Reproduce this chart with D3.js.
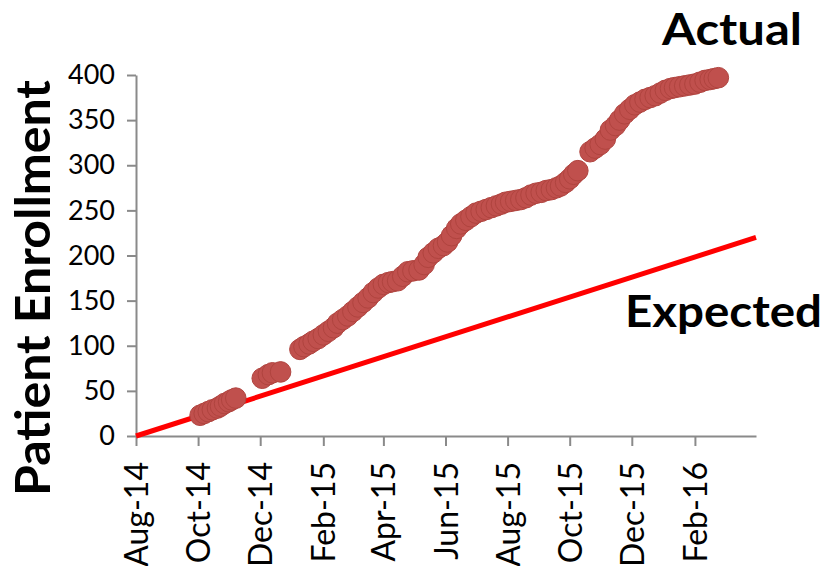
<!DOCTYPE html>
<html>
<head>
<meta charset="utf-8">
<script src="https://cdn.jsdelivr.net/npm/d3@7"></script>
<style>
  html, body { margin: 0; padding: 0; background: #fff; }
  svg { display: block; }
</style>
</head>
<body>
<svg id="chart" width="824" height="566"></svg>
<script>
// Cumulative patient enrollment: actual vs. expected
const actualDates = [
  "2014-10-03","2014-10-07","2014-10-11","2014-10-15","2014-10-20","2014-10-23","2014-10-27","2014-10-31","2014-11-03","2014-11-07",
  "2014-12-03","2014-12-09","2014-12-13","2014-12-21",
  "2015-01-09","2015-01-13","2015-01-18","2015-01-22","2015-01-27","2015-02-01","2015-02-06","2015-02-11","2015-02-15","2015-02-20",
  "2015-02-25","2015-03-02","2015-03-07","2015-03-12","2015-03-17","2015-03-22","2015-03-27","2015-04-01","2015-04-06","2015-04-10",
  "2015-04-15","2015-04-20","2015-04-25","2015-04-30","2015-05-06","2015-05-11","2015-05-15","2015-05-20","2015-05-25","2015-05-30",
  "2015-06-03","2015-06-07","2015-06-12","2015-06-16","2015-06-21","2015-06-26","2015-07-01","2015-07-06","2015-07-11","2015-07-16",
  "2015-07-21","2015-07-26","2015-07-30","2015-08-04","2015-08-09","2015-08-14","2015-08-19","2015-08-24","2015-08-29","2015-09-03",
  "2015-09-08","2015-09-13","2015-09-18","2015-09-22","2015-09-27","2015-10-01","2015-10-05","2015-10-09",
  "2015-10-21","2015-10-26","2015-10-31","2015-11-05","2015-11-10","2015-11-15","2015-11-19","2015-11-24","2015-11-29","2015-12-04",
  "2015-12-09","2015-12-14","2015-12-19","2015-12-24","2015-12-29","2016-01-03","2016-01-08","2016-01-12","2016-01-17","2016-01-22",
  "2016-01-27","2016-02-01","2016-02-06","2016-02-11","2016-02-16","2016-02-20","2016-02-24"
];
const actualValues = [
  23, 25, 27, 29, 31, 33, 36, 38, 40, 42,
  64, 68, 70, 71,
  96, 99, 102, 105, 108, 112, 116, 120, 125, 129,
  133, 138, 143, 148, 153, 159, 164, 168, 170, 171,
  172, 177, 182, 183, 184, 190, 198, 203, 208, 211,
  215, 222, 230, 235, 239, 243, 247, 249, 251, 253,
  255, 257, 259, 260, 261, 262, 264, 267, 269, 270,
  272, 273, 275, 277, 281, 285, 290, 294,
  315, 319, 323, 329, 339, 344, 350, 357, 362, 367,
  370, 373, 375, 377, 380, 383, 385, 386, 387, 388,
  389, 390, 392, 394, 395, 396, 397
];

// Planned enrollment: straight line from study start
const expectedMonths = ["Aug-14", "Apr-16"];
const expectedValues = [0, 220];

// Axis ticks
const xTickLabels = ["Aug-14","Oct-14","Dec-14","Feb-15","Apr-15","Jun-15","Aug-15","Oct-15","Dec-15","Feb-16"];
const xDomainLabels = ["Aug-14", "Apr-16"];
const yTickValues = [0, 50, 100, 150, 200, 250, 300, 350, 400];

const parseDay = d3.timeParse("%Y-%m-%d");
const parseMonth = d3.timeParse("%b-%y");
const fmtMonth = d3.timeFormat("%b-%y");

const svg = d3.select("#chart");

const x = d3.scaleTime()
  .domain(xDomainLabels.map(parseMonth))
  .range([136, 756]);
const y = d3.scaleLinear()
  .domain([0, 400])
  .range([436, 75]);

const axisColor = "#8a8a8a";
const tickFont = "Lato, 'Open Sans', sans-serif";

// Y axis
const yAxis = svg.append("g")
  .attr("transform", "translate(136,0)")
  .call(d3.axisLeft(y).tickValues(yTickValues).tickSize(9).tickSizeOuter(0).tickPadding(12));
yAxis.select(".domain").attr("stroke", axisColor).attr("stroke-width", 2);
yAxis.selectAll(".tick line").attr("stroke", axisColor).attr("stroke-width", 2);
yAxis.selectAll(".tick text")
  .attr("fill", "#000")
  .style("font-family", tickFont)
  .style("font-size", "27px");

// X axis
const xAxis = svg.append("g")
  .attr("transform", "translate(0,436)")
  .call(d3.axisBottom(x)
    .tickValues(xTickLabels.map(parseMonth))
    .tickFormat(fmtMonth)
    .tickSize(10)
    .tickSizeOuter(0));
xAxis.select(".domain").attr("stroke", axisColor).attr("stroke-width", 2);
xAxis.selectAll(".tick line").attr("stroke", axisColor).attr("stroke-width", 2);
xAxis.selectAll(".tick text")
  .attr("fill", "#000")
  .attr("transform", "rotate(-90)")
  .attr("text-anchor", "end")
  .attr("x", -26)
  .attr("y", 0)
  .attr("dy", "0.36em")
  .style("font-family", tickFont)
  .style("font-size", "32px");

// Expected line
const expected = expectedMonths.map((m, i) => ({ date: parseMonth(m), value: expectedValues[i] }));
svg.append("path")
  .datum(expected)
  .attr("fill", "none")
  .attr("stroke", "#ff0000")
  .attr("stroke-width", 5)
  .attr("d", d3.line().x(d => x(d.date)).y(d => y(d.value)));

// Actual enrollment markers
const actual = actualDates.map((d, i) => ({ date: parseDay(d), value: actualValues[i] }));
svg.append("g")
  .selectAll("circle")
  .data(actual)
  .join("circle")
  .attr("cx", d => x(d.date))
  .attr("cy", d => y(d.value))
  .attr("r", 10.3)
  .attr("fill", "#c0504d")
  .attr("stroke", "#b0443f")
  .attr("stroke-width", 1);

// Series labels
const boldFont = "Lato, 'Open Sans', sans-serif";
svg.append("text")
  .attr("x", 662).attr("y", 45)
  .attr("textLength", 140).attr("lengthAdjust", "spacingAndGlyphs")
  .style("font-family", boldFont).style("font-weight", "bold").style("font-size", "44px")
  .text("Actual");
svg.append("text")
  .attr("x", 625).attr("y", 327)
  .attr("textLength", 197).attr("lengthAdjust", "spacingAndGlyphs")
  .style("font-family", boldFont).style("font-weight", "bold").style("font-size", "44px")
  .text("Expected");

// Y axis title
svg.append("text")
  .attr("transform", "translate(50,288) rotate(-90)")
  .attr("text-anchor", "middle")
  .attr("textLength", 416).attr("lengthAdjust", "spacingAndGlyphs")
  .style("font-family", boldFont).style("font-weight", "bold").style("font-size", "48px")
  .text("Patient Enrollment");
</script>
</body>
</html>
